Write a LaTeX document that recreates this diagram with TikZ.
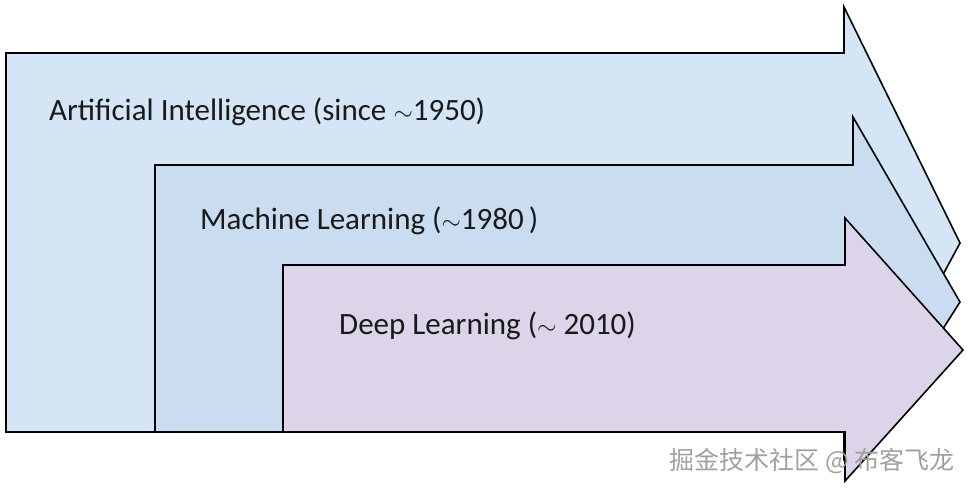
\documentclass[tikz,border=0pt]{standalone}
\usepackage{fontspec}
\setmainfont{Carlito}
\newfontfamily\cjk{Noto Sans CJK SC}
\definecolor{aicol}{RGB}{212,229,245}
\definecolor{mlcol}{RGB}{201,220,240}
\definecolor{dlcol}{RGB}{220,212,232}
\definecolor{wmcol}{RGB}{160,160,160}
\begin{document}
\begin{tikzpicture}[x=1pt,y=-1pt,
  bigarrow/.style={draw=black,line width=1.6pt,line join=miter},
  lbl/.style={anchor=base west,inner sep=0pt,font=\fontsize{31}{37}\selectfont,text=black!90}]
\useasboundingbox (0,0) rectangle (969,488);
\draw[bigarrow,fill=aicol] (6,53) -- (844,53) -- (844,7) -- (960,243) -- (844,458) -- (844,432) -- (6,432) -- cycle;
\draw[bigarrow,fill=mlcol] (155,165) -- (853,165) -- (853,117) -- (960,302) -- (853,470) -- (853,432) -- (155,432) -- cycle;
\draw[bigarrow,fill=dlcol] (283,265) -- (845,265) -- (845,218) -- (963,350) -- (845,481) -- (845,432) -- (283,432) -- cycle;
\node[lbl] (ai) at (49,120) {Artificial Intelligence (since $\sim$1950)};
\node[lbl] (ml) at (200,229) {Machine Learning ($\sim$1980\,)};
\node[lbl] (dl) at (339,334) {Deep Learning ($\sim$ 2010)};
\node[anchor=east,inner sep=0pt,font=\cjk\fontsize{25}{30}\selectfont,text=wmcol] (wm) at (955,461) {掘金技术社区 @ 布客飞龙};
\end{tikzpicture}
\end{document}
